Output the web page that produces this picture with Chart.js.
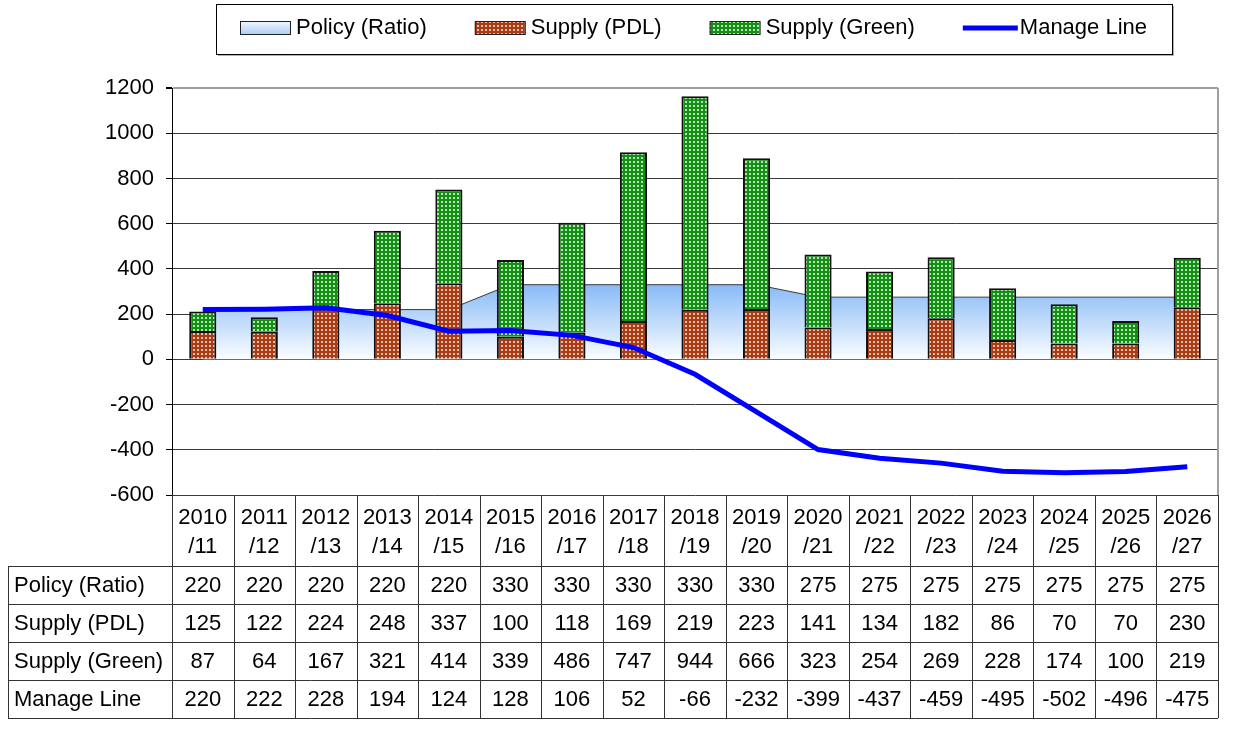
<!DOCTYPE html>
<html>
<head>
<meta charset="utf-8">
<script src="https://cdn.jsdelivr.net/npm/chart.js@4.4.1/dist/chart.umd.min.js"></script>
<style>
  body { margin: 0; background: #fff; }
  #wrap { width: 1234px; height: 734px; position: relative; }
</style>
</head>
<body>
<div id="wrap"><canvas id="supplyChart"></canvas></div>
<script>
var seasons = ['2010/11', '2011/12', '2012/13', '2013/14', '2014/15', '2015/16', '2016/17', '2017/18', '2018/19',
  '2019/20', '2020/21', '2021/22', '2022/23', '2023/24', '2024/25', '2025/26', '2026/27'];
var policyRatio = [220, 220, 220, 220, 220, 330, 330, 330, 330, 330, 275, 275, 275, 275, 275, 275, 275];
var supplyPDL = [125, 122, 224, 248, 337, 100, 118, 169, 219, 223, 141, 134, 182, 86, 70, 70, 230];
var supplyGreen = [87, 64, 167, 321, 414, 339, 486, 747, 944, 666, 323, 254, 269, 228, 174, 100, 219];
var manageLine = [220, 222, 228, 194, 124, 128, 106, 52, -66, -232, -399, -437, -459, -495, -502, -496, -475];
var yMin = -600, yMax = 1200, yStep = 200;

var FONT = '22px "Liberation Sans", Arial, sans-serif';

function dotPattern(bg, dot) {
  var c = document.createElement('canvas');
  c.width = 4; c.height = 4;
  var g = c.getContext('2d');
  g.fillStyle = bg;
  g.fillRect(0, 0, 4, 4);
  g.fillStyle = dot;
  g.fillRect(1, 1, 2, 2);
  return g.createPattern(c, 'repeat');
}

var pdlFill = dotPattern('#a83c16', '#e9bea6');
var greenFill = dotPattern('#148e14', '#b0e6b0');

function policyGradient(context) {
  var chart = context.chart;
  if (!chart.chartArea) return '#c6dcf8';
  var y = chart.scales.y;
  var g = chart.ctx.createLinearGradient(0, y.getPixelForValue(330), 0, y.getPixelForValue(0));
  g.addColorStop(0, '#88baf7');
  g.addColorStop(1, '#fbfdff');
  return g;
}

var bgPlugin = {
  id: 'whiteBg',
  beforeDraw: function (chart) {
    var ctx = chart.ctx;
    ctx.save();
    ctx.fillStyle = '#fff';
    ctx.fillRect(0, 0, chart.width, chart.height);
    ctx.restore();
  }
};

var legendPlugin = {
  id: 'boxLegend',
  afterDraw: function (chart) {
    var ctx = chart.ctx;
    ctx.save();
    ctx.fillStyle = '#b0b0b0';
    ctx.fillRect(218, 54, 956, 2);
    ctx.fillRect(1172, 6, 2, 50);
    ctx.strokeStyle = '#000';
    ctx.lineWidth = 1;
    ctx.strokeRect(216.5, 4.5, 956, 50);
    ctx.font = FONT;
    ctx.textBaseline = 'middle';
    ctx.textAlign = 'left';
    var x = 240, cy = 28;
    chart.data.datasets.forEach(function (ds, i) {
      if (i === 0) {
        var g = ctx.createLinearGradient(0, cy - 7, 0, cy + 7);
        g.addColorStop(0, '#f4f9ff');
        g.addColorStop(1, '#a8cbf8');
        ctx.fillStyle = g;
        ctx.fillRect(x, cy - 7, 50, 14);
        ctx.strokeStyle = '#222';
        ctx.strokeRect(x + 0.5, cy - 6.5, 50, 13);
      } else if (ds.type === 'bar') {
        ctx.fillStyle = ds.backgroundColor;
        ctx.fillRect(x, cy - 7, 50, 14);
        ctx.strokeStyle = '#222';
        ctx.strokeRect(x + 0.5, cy - 6.5, 50, 13);
      } else {
        ctx.strokeStyle = ds.borderColor;
        ctx.lineWidth = 5;
        ctx.beginPath();
        ctx.moveTo(x, cy);
        ctx.lineTo(x + 55, cy);
        ctx.stroke();
        ctx.lineWidth = 1;
      }
      ctx.fillStyle = '#000';
      var tx = i === 3 ? x + 57 : x + 56;
      ctx.fillText(ds.label, tx, cy);
      x = tx + ctx.measureText(ds.label).width + 48;
    });
    ctx.restore();
  }
};

var tablePlugin = {
  id: 'dataTable',
  afterDraw: function (chart) {
    var ctx = chart.ctx, xs = chart.scales.x, area = chart.chartArea;
    var colW = (area.right - area.left) / seasons.length;
    var top = area.bottom, headBottom = top + 71, rowH = 38, left = 8;
    var rows = [
      { label: 'Policy (Ratio)', values: policyRatio },
      { label: 'Supply (PDL)', values: supplyPDL },
      { label: 'Supply (Green)', values: supplyGreen },
      { label: 'Manage Line', values: manageLine }
    ];
    var bottom = headBottom + rowH * rows.length;
    ctx.save();
    // right border of plot
    ctx.strokeStyle = '#a0a0a0';
    ctx.lineWidth = 2;
    ctx.beginPath();
    ctx.moveTo(area.right, area.top);
    ctx.lineTo(area.right, area.bottom);
    ctx.stroke();

    ctx.strokeStyle = '#333';
    ctx.lineWidth = 1;
    ctx.beginPath();
    for (var i = 0; i <= seasons.length; i++) {
      var lx = Math.round(area.left + colW * i) + 0.5;
      ctx.moveTo(lx, top);
      ctx.lineTo(lx, bottom);
    }
    ctx.moveTo(left + 0.5, headBottom);
    ctx.lineTo(left + 0.5, bottom);
    for (var j = 0; j <= rows.length; j++) {
      var ly = headBottom + rowH * j + 0.5;
      ctx.moveTo(left, ly);
      ctx.lineTo(area.right, ly);
    }
    ctx.stroke();

    ctx.font = FONT;
    ctx.fillStyle = '#000';
    ctx.textBaseline = 'middle';
    ctx.textAlign = 'center';
    seasons.forEach(function (s, k) {
      var cx = xs.getPixelForValue(k);
      ctx.fillText(s.slice(0, 4), cx, top + 23);
      ctx.fillText(s.slice(4), cx, top + 52);
    });
    rows.forEach(function (r, j) {
      var cy = headBottom + rowH * j + rowH / 2 + 1;
      ctx.textAlign = 'left';
      ctx.fillText(r.label, left + 6, cy);
      ctx.textAlign = 'center';
      r.values.forEach(function (v, k) {
        ctx.fillText(String(v), xs.getPixelForValue(k), cy);
      });
    });
    ctx.restore();
  }
};

var ctx = document.getElementById('supplyChart');
var supplyChart = new Chart(ctx, {
  type: 'bar',
  data: {
    labels: seasons,
    datasets: [{
      type: 'line',
      label: 'Policy (Ratio)',
      data: policyRatio,
      fill: 'origin',
      backgroundColor: policyGradient,
      borderColor: '#3a3a3a',
      borderWidth: 1,
      pointRadius: 0,
      tension: 0,
      stack: 'policy',
      order: 3
    }, {
      type: 'bar',
      label: 'Supply (PDL)',
      data: supplyPDL,
      backgroundColor: pdlFill,
      borderColor: '#111',
      borderWidth: 2,
      stack: 'supply',
      barPercentage: 0.9,
      categoryPercentage: 0.49,
      order: 2
    }, {
      type: 'bar',
      label: 'Supply (Green)',
      data: supplyGreen,
      backgroundColor: greenFill,
      borderColor: '#111',
      borderWidth: 2,
      stack: 'supply',
      barPercentage: 0.9,
      categoryPercentage: 0.49,
      order: 2
    }, {
      type: 'line',
      label: 'Manage Line',
      data: manageLine,
      borderColor: '#0000ff',
      borderWidth: 5,
      pointRadius: 0,
      tension: 0,
      fill: false,
      stack: 'manage',
      order: 1
    }]
  },
  options: {
    responsive: true,
    maintainAspectRatio: false,
    animation: false,
    layout: { padding: { top: 88, right: 16, bottom: 239, left: 0 } },
    plugins: {
      legend: { display: false },
      tooltip: { enabled: false }
    },
    scales: {
      x: { display: false, stacked: true },
      y: {
        stacked: true,
        min: yMin,
        max: yMax,
        afterFit: function (scale) { scale.width = 172; },
        ticks: {
          stepSize: yStep,
          padding: 12,
          color: '#000',
          font: { family: '"Liberation Sans", Arial, sans-serif', size: 22 },
          callback: function (value) { return String(value); }
        },
        grid: {
          color: function (c) { return c.tick && c.tick.value === yMax ? '#a0a0a0' : '#3a3a3a'; },
          lineWidth: function (c) { return c.tick && c.tick.value === yMax ? 2 : 1; },
          tickColor: '#000',
          tickLength: 6
        },
        border: { color: '#000', width: 1 }
      }
    }
  },
  plugins: [bgPlugin, legendPlugin, tablePlugin]
});
</script>
</body>
</html>
